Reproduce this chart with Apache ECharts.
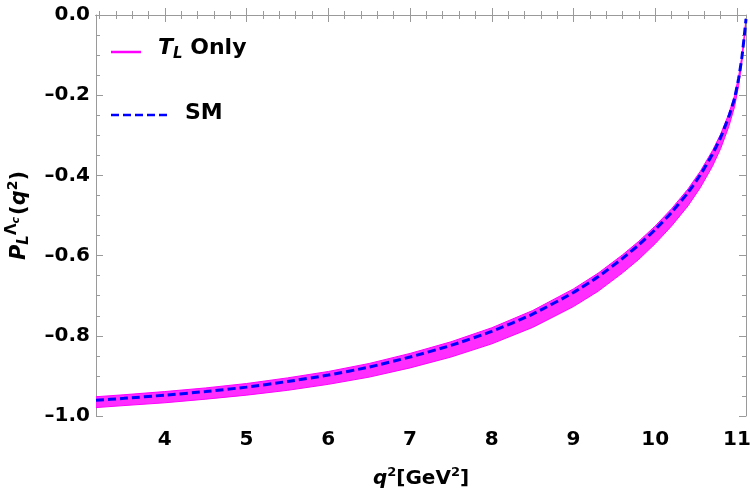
<!DOCTYPE html>
<html>
<head>
<meta charset="utf-8">
<script src="https://cdn.jsdelivr.net/npm/echarts@6/dist/echarts.min.js"></script>
<style>
  html, body { margin: 0; padding: 0; background: #fff; }
  #chart { width: 750px; height: 496px; }
</style>
</head>
<body>
<div id="chart"></div>
<script>
// q^2 sample points (GeV^2)
const q2 = [3.158, 3.5, 4.0, 4.5, 5.0, 5.5, 6.0, 6.5, 7.0, 7.5, 8.0, 8.5, 9.0, 9.3, 9.6, 9.8, 10.0, 10.2, 10.4, 10.55, 10.7, 10.8, 10.9, 10.97, 11.02, 11.06, 11.09, 11.11];
// SM curve
const smValues = [-0.961, -0.956, -0.948, -0.939, -0.928, -0.914, -0.898, -0.878, -0.853, -0.824, -0.789, -0.746, -0.692, -0.653, -0.607, -0.573, -0.535, -0.492, -0.443, -0.399, -0.347, -0.305, -0.253, -0.207, -0.158, -0.105, -0.050, -0.010];
// T_L only band (upper / lower edge)
const bandUpper = [-0.952, -0.947, -0.939, -0.930, -0.919, -0.905, -0.889, -0.869, -0.844, -0.815, -0.780, -0.737, -0.683, -0.644, -0.598, -0.564, -0.526, -0.483, -0.434, -0.390, -0.338, -0.297, -0.246, -0.201, -0.153, -0.101, -0.047, -0.008];
const bandLower = [-0.979, -0.974, -0.967, -0.958, -0.948, -0.936, -0.921, -0.903, -0.880, -0.853, -0.820, -0.779, -0.727, -0.689, -0.643, -0.609, -0.570, -0.526, -0.476, -0.431, -0.377, -0.333, -0.278, -0.229, -0.176, -0.118, -0.058, -0.014];

const xMin = 3.158, xMax = 11.11;
const xMajorTicks = [4, 5, 6, 7, 8, 9, 10, 11];
const xMinorTicks = [];
for (let i = 16; i <= 55; i++) xMinorTicks.push(+(i * 0.2).toFixed(1));

const frameColor = '#9a9a9a';
const font = '"DejaVu Sans", "Liberation Sans", sans-serif';

var chart = echarts.init(document.getElementById('chart'));

function xAxisDef(pos, ticks, len, withLabels) {
  return {
    type: 'value', position: pos, min: xMin, max: xMax,
    axisLine: { show: true, lineStyle: { color: frameColor, width: 1 } },
    axisTick: { show: true, inside: true, length: len, customValues: ticks, lineStyle: { color: frameColor } },
    axisLabel: withLabels ? {
      show: true, customValues: xMajorTicks, margin: 14,
      color: '#000', fontFamily: font, fontWeight: 'bold', fontSize: 20
    } : { show: false },
    splitLine: { show: false }
  };
}

function yAxisDef(pos, withLabels) {
  return {
    type: 'value', position: pos, min: -1, max: 0, interval: 0.2,
    axisLine: { show: true, lineStyle: { color: frameColor, width: 1 } },
    axisTick: { show: true, inside: true, length: 7, lineStyle: { color: frameColor } },
    minorTick: { show: true, splitNumber: 4, length: 4, lineStyle: { color: frameColor } },
    axisLabel: withLabels ? {
      show: true, margin: 6, color: '#000', fontFamily: font, fontWeight: 'bold', fontSize: 20,
      formatter: v => (v < 0 ? '\u2013' + Math.abs(v).toFixed(1) : v.toFixed(1))
    } : { show: false },
    splitLine: { show: false }, minorSplitLine: { show: false }
  };
}

const xBottom = xAxisDef('bottom', xMajorTicks, 7, true);
xBottom.name = '{i|q}{sup|2}{n|[GeV}{sup|2}{n|]}';
xBottom.nameLocation = 'middle';
xBottom.nameGap = 50;
xBottom.nameTextStyle = {
  rich: {
    i: { fontFamily: font, fontWeight: 'bold', fontStyle: 'italic', fontSize: 20, color: '#000' },
    n: { fontFamily: font, fontWeight: 'bold', fontSize: 20, color: '#000' },
    sup: { fontFamily: font, fontWeight: 'bold', fontSize: 13, color: '#000', padding: [0, 0, 12, 0] }
  }
};

const yLeft = yAxisDef('left', true);
yLeft.name = '{i|P}{sub|L}{sup|\u039B}{supsub|c}{n|(}{i|q}{sup2|2}{n|)}';
yLeft.nameLocation = 'middle';
yLeft.nameRotate = 90;
yLeft.nameGap = 62;
yLeft.nameTextStyle = {
  rich: {
    i: { fontFamily: font, fontWeight: 'bold', fontStyle: 'italic', fontSize: 21, color: '#000' },
    n: { fontFamily: font, fontWeight: 'bold', fontSize: 21, color: '#000' },
    sub: { fontFamily: font, fontWeight: 'bold', fontStyle: 'italic', fontSize: 15, color: '#000', padding: [10, 0, 0, 0] },
    sup: { fontFamily: font, fontWeight: 'bold', fontSize: 15, color: '#000', padding: [0, 0, 14, 0] },
    supsub: { fontFamily: font, fontWeight: 'bold', fontStyle: 'italic', fontSize: 11, color: '#000', padding: [0, 2, 6, 0] },
    sup2: { fontFamily: font, fontWeight: 'bold', fontSize: 14, color: '#000', padding: [0, 0, 12, 0] }
  }
};

var option = {
  backgroundColor: '#fff',
  animation: false,
  grid: { left: 96, right: 4, top: 15, bottom: 80, containLabel: false, outerBoundsMode: 'none' },
  xAxis: [
    xBottom,
    xAxisDef('bottom', xMinorTicks, 4, false),
    xAxisDef('top', xMajorTicks, 7, false),
    xAxisDef('top', xMinorTicks, 4, false)
  ],
  yAxis: [yLeft, yAxisDef('right', false)],
  graphic: [
    { type: 'line', shape: { x1: 111, y1: 52, x2: 141, y2: 52 }, style: { stroke: '#ff00ff', lineWidth: 2.5 } },
    { type: 'text', x: 158, y: 48, style: {
        text: '{i|T}{sub|L}{n| Only}', verticalAlign: 'middle',
        rich: {
          i: { fontFamily: font, fontWeight: 'bold', fontStyle: 'italic', fontSize: 22, fill: '#000' },
          sub: { fontFamily: font, fontWeight: 'bold', fontStyle: 'italic', fontSize: 15, fill: '#000', padding: [12, 0, 0, 0] },
          n: { fontFamily: font, fontWeight: 'bold', fontSize: 22, fill: '#000' }
        } } },
    { type: 'line', shape: { x1: 111, y1: 115, x2: 167, y2: 115 }, style: { stroke: '#0000ff', lineWidth: 2.5, lineDash: [8, 4] } },
    { type: 'text', x: 185, y: 113, style: { text: 'SM', verticalAlign: 'middle', fontFamily: font, fontWeight: 'bold', fontSize: 22, fill: '#000' } }
  ],
  series: [
    {
      name: 'T_L Only', type: 'custom', silent: true, clip: true, z: 2,
      data: q2.map((x, i) => [x, bandLower[i], bandUpper[i]]),
      encode: { x: 0, y: [1, 2] },
      renderItem: function (params, api) {
        if (params.dataIndex !== 0) return null;
        const pts = [];
        for (let i = 0; i < q2.length; i++) pts.push(api.coord([q2[i], bandUpper[i]]));
        for (let i = q2.length - 1; i >= 0; i--) pts.push(api.coord([q2[i], bandLower[i]]));
        return {
          type: 'polygon',
          shape: { points: pts },
          style: { fill: '#ff2eff', stroke: '#ff00ff', lineWidth: 1 }
        };
      }
    },
    {
      name: 'SM', type: 'line', symbol: 'none', smooth: 0.2,
      data: q2.map((x, i) => [x, smValues[i]]),
      lineStyle: { color: '#0000ff', width: 3, type: [8, 4] }, z: 5
    }
  ]
};

chart.setOption(option);
</script>
</body>
</html>
